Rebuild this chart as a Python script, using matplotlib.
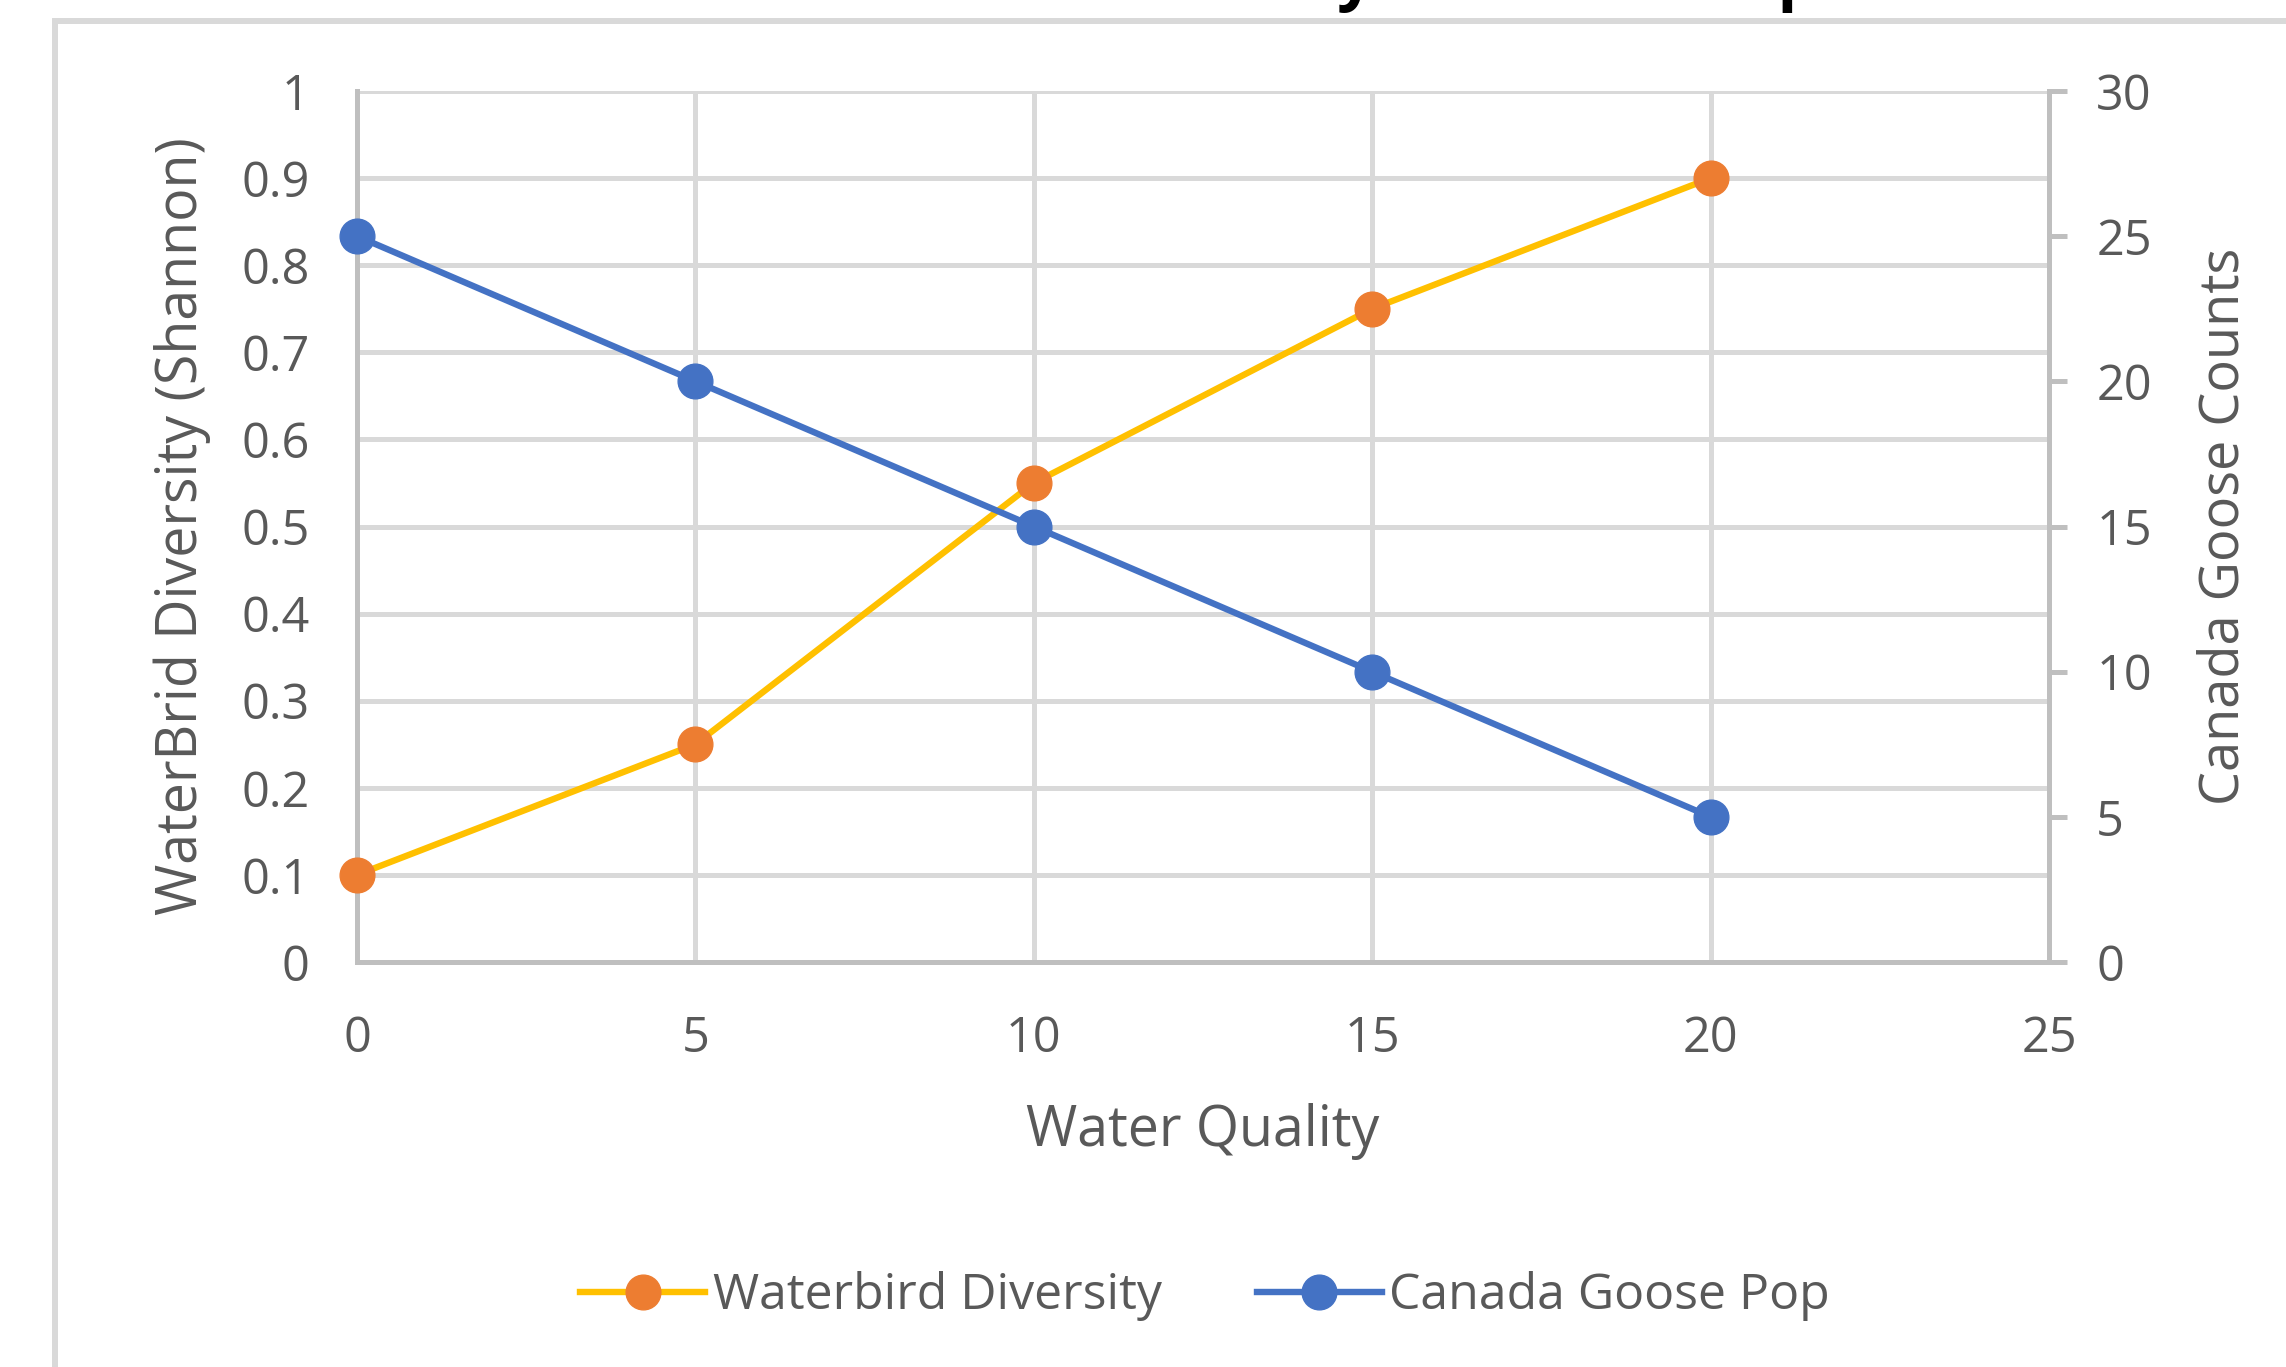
import numpy as np
import matplotlib.pyplot as plt
from matplotlib.patches import Rectangle

# data
water_quality = [0, 5, 10, 15, 20]
waterbird_diversity = [0.1, 0.25, 0.55, 0.75, 0.9]
goose_counts = [25, 20, 15, 10, 5]

titulo = "Waterbird Diversity vs Goose Population"

cor_texto = '#595959'
cor_eixo = '#BFBFBF'
cor_grade = '#D9D9D9'
fonte = ['Open Sans', 'DejaVu Sans']

plt.rcParams['font.family'] = fonte

W, H = 2286, 1367
fig = plt.figure(figsize=(W / 100, H / 100), dpi=100)
fig.patch.set_facecolor('white')

# chart border (cut off at the right and bottom)
fig.patches.append(Rectangle((55 / W, -0.1), 1.2, 1.1 - 21 / H, transform=fig.transFigure,
                             fill=False, edgecolor=cor_grade, linewidth=4.3, zorder=0))

ax = fig.add_axes([357 / W, (H - 962) / H, (2049 - 357) / W, (962 - 91) / H])
ax2 = ax.twinx()

ax.set_xlim(0, 25)
ax.set_ylim(0, 1)
ax2.set_ylim(0, 30)
ax.set_xticks(np.arange(0, 26, 5))
ax.set_yticks(np.arange(0, 1.01, 0.1))
ax.set_yticklabels(['0', '0.1', '0.2', '0.3', '0.4', '0.5', '0.6', '0.7', '0.8', '0.9', '1'])
ax2.set_yticks(np.arange(0, 31, 5))

ax.grid(True, color=cor_grade, linewidth=3.6, zorder=0)
ax.set_axisbelow(True)

for a in (ax, ax2):
    a.spines['top'].set_visible(False)
    for s in ('left', 'right', 'bottom'):
        a.spines[s].set_color(cor_eixo)
        a.spines[s].set_linewidth(3.6)
ax.spines['right'].set_visible(False)
ax2.spines['left'].set_visible(False)
ax2.spines['bottom'].set_visible(False)

ax.tick_params(axis='x', length=0, pad=38, labelsize=35, labelcolor=cor_texto)
ax.tick_params(axis='y', length=0, pad=34, labelsize=35, labelcolor=cor_texto)
ax2.tick_params(axis='y', length=13, width=3.6, color=cor_eixo, pad=21,
                labelsize=35, labelcolor=cor_texto)

l1, = ax.plot(water_quality, waterbird_diversity, color='#FFC000', linewidth=4.6,
              marker='o', markersize=25, markerfacecolor='#ED7D31',
              markeredgecolor='#ED7D31', label='Waterbird Diversity', zorder=3, clip_on=False)
l2, = ax2.plot(water_quality, goose_counts, color='#4472C4', linewidth=4.6,
               marker='o', markersize=25, markerfacecolor='#4472C4',
               markeredgecolor='#4472C4', label='Canada Goose Pop', zorder=3, clip_on=False)

ax.set_xlabel('Water Quality', fontsize=40, color=cor_texto, labelpad=28)
ax.set_ylabel('WaterBrid Diversity (Shannon)', fontsize=40, color=cor_texto, labelpad=22)
ax2.set_ylabel('Canada Goose Counts', fontsize=39, color=cor_texto, labelpad=32)

fig.legend(handles=[l1, l2], loc='center', bbox_to_anchor=(1205 / W, (H - 1296) / H),
           ncol=2, frameon=False, fontsize=36, labelcolor=cor_texto,
           handlelength=2.5, handletextpad=0.15, columnspacing=1.9)

# title: only the descenders are visible at the top edge of the crop
fs0 = 44
fig.canvas.draw()
r = fig.canvas.get_renderer()
t1 = fig.text(0, 0, "Waterbird Diversit", fontsize=fs0, fontweight='bold')
t2 = fig.text(0, 0, "Waterbird Diversity vs Goose Po", fontsize=fs0, fontweight='bold')
w1 = t1.get_window_extent(r).width
w2 = t2.get_window_extent(r).width
t1.remove()
t2.remove()
fs = fs0 * 441 / (w2 - w1)
x0 = 1338 - w1 * fs / fs0
desc = 0.24 * fs * 100 / 72
base = desc - 13
fig.text(x0 / W, 1 + base / H, titulo, fontsize=fs, fontweight='bold', color='black',
         ha='left', va='baseline')

fig.savefig('out.png', dpi=100)
